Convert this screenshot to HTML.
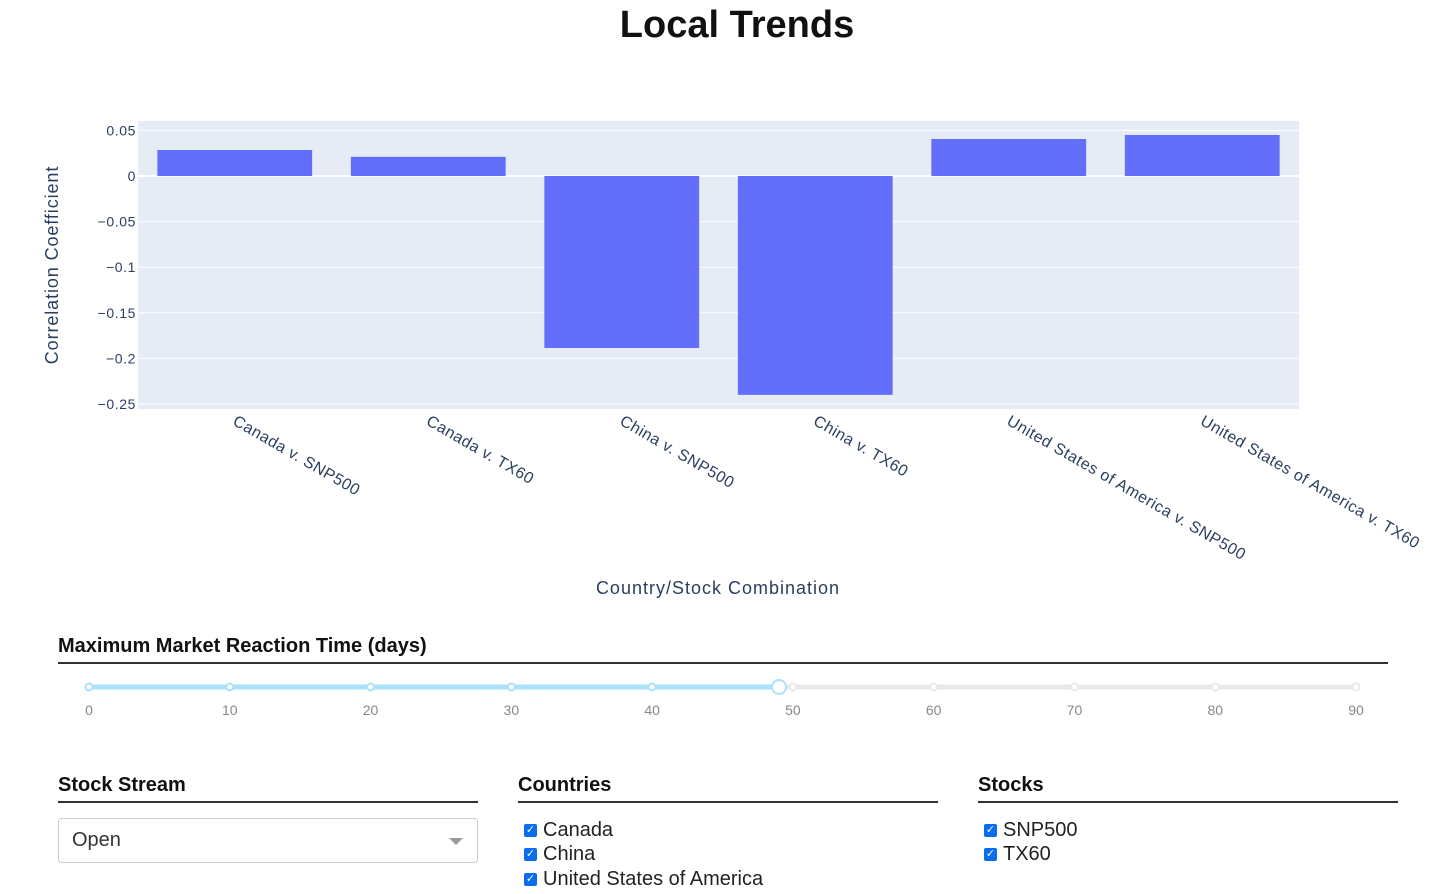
<!DOCTYPE html>
<html><head><meta charset="utf-8"><style>
body{margin:0;width:1433px;height:894px;background:#fff;font-family:"Liberation Sans",sans-serif;position:relative;overflow:hidden}
.h{position:absolute;font-weight:bold;font-size:20px;color:#111}
.rule{position:absolute;height:2px;background:#333}
.cb{position:absolute;font-size:20px;color:#222;display:flex;align-items:center}
.cb span.b{display:inline-block;width:13px;height:13px;background:#0b6cf0;border-radius:2px;color:#fff;font-size:11px;line-height:13px;text-align:center;margin-right:6px}
</style></head><body>
<svg id="chart" width="1433" height="620" style="position:absolute;left:0;top:0" font-family="Liberation Sans, sans-serif">
<text x="737" y="37" text-anchor="middle" font-size="38" font-weight="bold" fill="#111">Local Trends</text>
<rect x="138" y="121" width="1161" height="288" fill="#e5ecf6"/>
<g id="grid"></g><g id="bars"></g><g id="labels"></g>
<text transform="translate(58,265) rotate(-90)" text-anchor="middle" font-size="18" letter-spacing="0.9" fill="#2a3f5f">Correlation Coefficient</text>
<text x="718" y="594" text-anchor="middle" font-size="18" letter-spacing="1" fill="#2a3f5f">Country/Stock Combination</text>
</svg>
<script>
const categories=["Canada v. SNP500","Canada v. TX60","China v. SNP500","China v. TX60","United States of America v. SNP500","United States of America v. TX60"];
const values=[0.0285,0.021,-0.1886,-0.24,0.0406,0.045];
const yTicks=[0.05,0,-0.05,-0.1,-0.15,-0.2,-0.25];
const yTickLabels=["0.05","0","−0.05","−0.1","−0.15","−0.2","−0.25"];
const NS="http://www.w3.org/2000/svg";
const X0=138,W=1161;
function y(v){return 176-v*912;}
function xc(i){return X0+W/categories.length*(i+0.5);}
const bw=W/categories.length*0.8;
const g=document.getElementById('grid'),b=document.getElementById('bars'),l=document.getElementById('labels');
yTicks.forEach((t,i)=>{
 const ln=document.createElementNS(NS,'line');
 
 
 ln.setAttribute('x1',X0);ln.setAttribute('x2',X0+W);ln.setAttribute('y1',y(t));ln.setAttribute('y2',y(t));
 ln.setAttribute('stroke','#fff');ln.setAttribute('stroke-width',t===0?2:1);g.appendChild(ln);
 const tx=document.createElementNS(NS,'text');
 
 
 tx.setAttribute('x',136);tx.setAttribute('y',y(t)+5);tx.setAttribute('text-anchor','end');tx.setAttribute('font-size','14');tx.setAttribute('letter-spacing','0.6');tx.setAttribute('fill','#2a3f5f');
 tx.textContent=yTickLabels[i];l.appendChild(tx);
});
categories.forEach((c,i)=>{
 const v=values[i];
 const r=document.createElementNS(NS,'rect');
 
 
 r.setAttribute('x',xc(i)-bw/2);r.setAttribute('width',bw);
 r.setAttribute('y',Math.min(y(v),y(0)));r.setAttribute('height',Math.abs(y(v)-y(0)));
 r.setAttribute('fill','#636efa');b.appendChild(r);
 const tx=document.createElementNS(NS,'text');
 
 
 const px=xc(i)-3,py=424;
 tx.setAttribute('x',px);tx.setAttribute('y',py);tx.setAttribute('font-size','16');tx.setAttribute('letter-spacing','0.5');tx.setAttribute('fill','#2a3f5f');
 tx.setAttribute('transform','rotate(30 '+px+' '+py+')');
 tx.textContent=c;l.appendChild(tx);
});
</script>
<div class="h" style="left:58px;top:635px">Maximum Market Reaction Time (days)</div>
<div class="rule" style="left:58px;top:662px;width:1330px"></div>
<svg width="1433" height="40" style="position:absolute;left:0;top:675px" font-family="Liberation Sans, sans-serif">
<line x1="89" x2="1356" y1="12" y2="12" stroke="#e9e9e9" stroke-width="5"/>
<line x1="89" x2="779" y1="12" y2="12" stroke="#abe2fb" stroke-width="5"/>
<g id="marks"></g>
<circle cx="779" cy="12" r="7" fill="#fff" stroke="#abe2fb" stroke-width="2"/>
</svg>
<script>
const m=document.getElementById('marks');
for(let k=0;k<=9;k++){const x=89+k*140.78;const on=x<=779;
 const c=document.createElementNS(NS,'circle');
 
 
 c.setAttribute('cx',x);c.setAttribute('cy',12);c.setAttribute('r',3.5);c.setAttribute('fill','#fff');c.setAttribute('stroke',on?'#abe2fb':'#e9e9e9');c.setAttribute('stroke-width',2);m.appendChild(c);
 const t=document.createElementNS(NS,'text');
 
 
 t.setAttribute('x',x);t.setAttribute('y',40);t.setAttribute('text-anchor','middle');t.setAttribute('font-size','14');t.setAttribute('fill','#888');t.textContent=k*10;m.appendChild(t);}
</script>
<div class="h" style="left:58px;top:774px">Stock Stream</div>
<div class="rule" style="left:58px;top:801px;width:420px"></div>
<div style="position:absolute;left:58px;top:818px;width:418px;height:43px;border:1px solid #ccc;border-radius:4px;font-size:20px;color:#333;line-height:43px;box-sizing:content-box"><span style="margin-left:13px">Open</span><span style="position:absolute;right:14px;top:19px;width:0;height:0;border-left:7px solid transparent;border-right:7px solid transparent;border-top:7px solid #999"></span></div>
<div class="h" style="left:518px;top:774px">Countries</div>
<div class="rule" style="left:518px;top:801px;width:420px"></div>
<div class="cb" style="left:524px;top:819px"><span class="b">✓</span>Canada</div>
<div class="cb" style="left:524px;top:843px"><span class="b">✓</span>China</div>
<div class="cb" style="left:524px;top:868px"><span class="b">✓</span>United States of America</div>
<div class="h" style="left:978px;top:774px">Stocks</div>
<div class="rule" style="left:978px;top:801px;width:420px"></div>
<div class="cb" style="left:984px;top:819px"><span class="b">✓</span>SNP500</div>
<div class="cb" style="left:984px;top:843px"><span class="b">✓</span>TX60</div>
</body></html>
